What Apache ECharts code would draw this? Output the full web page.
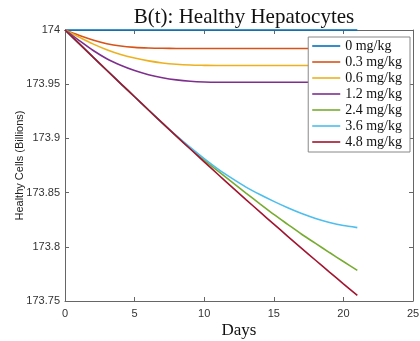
<!DOCTYPE html>
<html>
<head>
<meta charset="utf-8">
<script src="https://cdn.jsdelivr.net/npm/echarts@6/dist/echarts.min.js"></script>
<style>
html, body { margin: 0; padding: 0; background: #fff; }
#main { width: 420px; height: 341px; }
</style>
</head>
<body>
<div id="main"></div>
<script>
// days 0..21
var days = [0, 1, 2, 3, 4, 5, 6, 7, 8, 9, 10, 11, 12, 13, 14, 15, 16, 17, 18, 19, 20, 21];

var dose0 = [174, 174, 174, 174, 174, 174, 174, 174, 174, 174, 174, 174, 174, 174, 174, 174, 174, 174, 174, 174, 174, 174];
var dose03 = [174, 173.9952, 173.9908, 173.9874, 173.9852, 173.9840, 173.9834, 173.9831, 173.9830, 173.9829, 173.9829, 173.9829, 173.9829, 173.9829, 173.9829, 173.9829, 173.9829, 173.9829, 173.9829, 173.9829, 173.9829, 173.9829];
var dose06 = [174, 173.9935, 173.9872, 173.9818, 173.9774, 173.9741, 173.9715, 173.9696, 173.9684, 173.9677, 173.9674, 173.9672, 173.9672, 173.9672, 173.9672, 173.9672, 173.9672, 173.9672, 173.9672, 173.9672, 173.9672, 173.9672];
var dose12 = [174, 173.9905, 173.9813, 173.9735, 173.9675, 173.9626, 173.9588, 173.9560, 173.9540, 173.9527, 173.9520, 173.9518, 173.9518, 173.9518, 173.9518, 173.9518, 173.9518, 173.9518, 173.9518, 173.9518, 173.9518, 173.9518];
var dose24 = [174, 173.9876, 173.9752, 173.9629, 173.9506, 173.9384, 173.9262, 173.9141, 173.9021, 173.8907, 173.8799, 173.8697, 173.8596, 173.8496, 173.8397, 173.8299, 173.8207, 173.8116, 173.8031, 173.7947, 173.7864, 173.7782];
var dose36 = [174, 173.9876, 173.9752, 173.9629, 173.9506, 173.9384, 173.9262, 173.9141, 173.9026, 173.8917, 173.8814, 173.8717, 173.8631, 173.8551, 173.8482, 173.8419, 173.8360, 173.8307, 173.8262, 173.8225, 173.8196, 173.8177];
var dose48 = [174, 173.9876, 173.9752, 173.9629, 173.9506, 173.9384, 173.9262, 173.9141, 173.9021, 173.8902, 173.8784, 173.8667, 173.8551, 173.8436, 173.8322, 173.8209, 173.8097, 173.7986, 173.7876, 173.7767, 173.7659, 173.7552];

var names = ['0 mg/kg', '0.3 mg/kg', '0.6 mg/kg', '1.2 mg/kg', '2.4 mg/kg', '3.6 mg/kg', '4.8 mg/kg'];
var values = [dose0, dose03, dose06, dose12, dose24, dose36, dose48];
var colors = ['#0072BD', '#D95319', '#EDB120', '#7E2F8E', '#77AC30', '#4DBEEE', '#A2142F'];

var xTicks = [0, 5, 10, 15, 20, 25];
var yTicks = [173.75, 173.8, 173.85, 173.9, 173.95, 174];

var myChart = echarts.init(document.getElementById('main'));

var axisColor = '#666';
var labelColor = '#333';

var series = [];
for (var i = 0; i < names.length; i++) {
    var pts = [];
    for (var j = 0; j < days.length; j++) {
        pts.push([days[j], values[i][j]]);
    }
    series.push({
        name: names[i],
        type: 'line',
        data: pts,
        showSymbol: false,
        symbol: 'none',
        clip: false,
        smooth: 0.3,
        lineStyle: {width: 1.6, color: colors[i]},
        itemStyle: {color: colors[i]}
    });
}

var option = {
    animation: false,
    backgroundColor: '#fff',
    title: {
        text: 'B(t): Healthy Hepatocytes',
        left: 239,
        textAlign: 'center',
        top: 2,
        textStyle: {fontFamily: 'Liberation Serif', fontWeight: 'normal', fontSize: 21, color: '#111'}
    },
    legend: {
        orient: 'vertical',
        right: 10,
        top: 37,
        z: 10,
        data: names,
        icon: 'rect',
        itemWidth: 28,
        itemHeight: 1.6,
        itemGap: 0,
        padding: [1, 8, 2, 4],
        borderColor: '#888',
        borderWidth: 1,
        borderRadius: 0,
        backgroundColor: '#fff',
        textStyle: {fontFamily: 'Liberation Serif', fontSize: 14, color: '#111', lineHeight: 16}
    },
    grid: {left: 65, right: 7, top: 30, bottom: 40, containLabel: false, outerBoundsMode: 'none'},
    xAxis: [{
        type: 'value',
        min: xTicks[0],
        max: xTicks[xTicks.length - 1],
        interval: 5,
        name: 'Days',
        nameLocation: 'middle',
        nameGap: 21,
        nameMoveOverlap: false,
        nameTextStyle: {fontFamily: 'Liberation Serif', fontSize: 17, color: '#111'},
        axisLine: {show: true, onZero: false, lineStyle: {color: axisColor, width: 1}},
        axisTick: {show: true, inside: true, length: 4, lineStyle: {color: axisColor}},
        axisLabel: {fontFamily: 'Liberation Sans', fontSize: 11, color: labelColor, margin: 7},
        splitLine: {show: false}
    }, {
        type: 'value',
        position: 'top',
        min: xTicks[0],
        max: xTicks[xTicks.length - 1],
        interval: 5,
        axisLine: {show: true, onZero: false, lineStyle: {color: axisColor, width: 1}},
        axisTick: {show: true, inside: true, length: 4, lineStyle: {color: axisColor}},
        axisLabel: {show: false},
        splitLine: {show: false}
    }],
    yAxis: [{
        type: 'value',
        min: yTicks[0],
        max: yTicks[yTicks.length - 1],
        interval: 0.05,
        name: 'Healthy Cells (Billions)',
        nameLocation: 'middle',
        nameGap: 40,
        nameMoveOverlap: false,
        nameTextStyle: {fontFamily: 'Liberation Sans', fontSize: 11, color: '#222'},
        axisLine: {show: true, onZero: false, lineStyle: {color: axisColor, width: 1}},
        axisTick: {show: true, inside: true, length: 4, lineStyle: {color: axisColor}},
        axisLabel: {fontFamily: 'Liberation Sans', fontSize: 11, color: labelColor, margin: 5},
        splitLine: {show: false}
    }, {
        type: 'value',
        position: 'right',
        min: yTicks[0],
        max: yTicks[yTicks.length - 1],
        interval: 0.05,
        axisLine: {show: true, onZero: false, lineStyle: {color: axisColor, width: 1}},
        axisTick: {show: true, inside: true, length: 4, lineStyle: {color: axisColor}},
        axisLabel: {show: false},
        splitLine: {show: false}
    }],
    series: series
};

myChart.setOption(option);
</script>
</body>
</html>
